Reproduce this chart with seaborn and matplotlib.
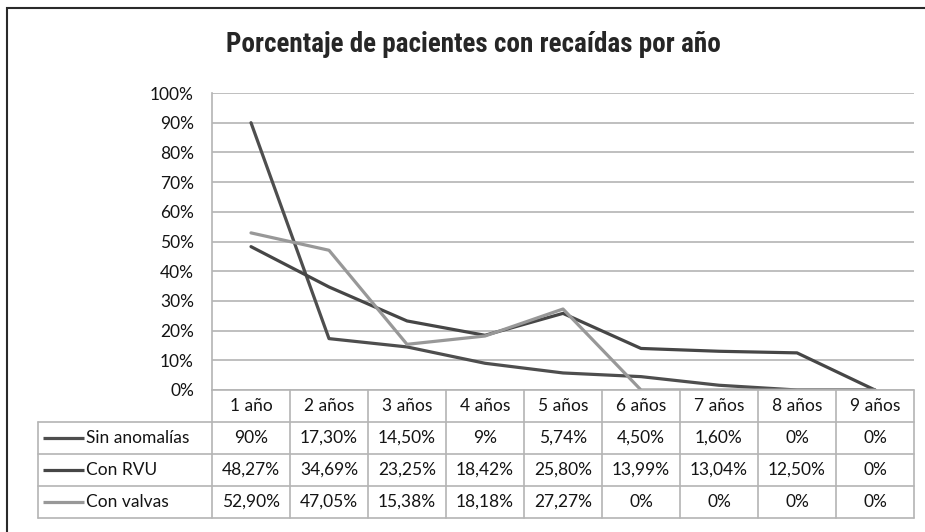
import matplotlib
matplotlib.use("Agg")
import pandas as pd
import matplotlib.pyplot as plt
from matplotlib.patches import Rectangle
import seaborn as sns

# ── Data ──────────────────────────────────────────────
years         = ["1 año", "2 años", "3 años", "4 años", "5 años",
                 "6 años", "7 años", "8 años", "9 años"]
sin_anomalias = [90, 17.30, 14.50, 9, 5.74, 4.50, 1.60, 0, 0]
con_rvu       = [48.27, 34.69, 23.25, 18.42, 25.80, 13.99, 13.04, 12.50, 0]
con_valvas    = [52.90, 47.05, 15.38, 18.18, 27.27, 0, 0, 0, 0]
series_names  = ["Sin anomalías", "Con RVU", "Con valvas"]
series_values = [sin_anomalias, con_rvu, con_valvas]
yticks        = list(range(0, 101, 10))

# ── Style ─────────────────────────────────────────────
COLORS    = {"Sin anomalías": "#4e4e4e", "Con RVU": "#464646", "Con valvas": "#989898"}
GRID_COL  = "#b4b4b4"
TEXT_COL  = "#141414"
LINE_W    = 2.3
FS        = 12.5
W, H      = 925, 532

sns.set_theme(style="white")
plt.rcParams['font.family'] = ['Lato', 'DejaVu Sans']


def px_rect(x0, y0, x1, y1):
    return [x0 / W, 1 - y1 / H, (x1 - x0) / W, (y1 - y0) / H]


def fmt_pct(v):
    if float(v).is_integer():
        return f"{int(v)}%"
    return f"{v:.2f}%".replace(".", ",")


rows = []
for name, vals in zip(series_names, series_values):
    for i, v in enumerate(vals):
        rows.append({"idx": i, "year": years[i], "serie": name, "value": v})
df = pd.DataFrame(rows)

fig = plt.figure(figsize=(W / 100, H / 100), dpi=100)

# ── Line chart ────────────────────────────────────────
ax = fig.add_axes(px_rect(212, 93, 914, 390))
sns.lineplot(data=df, x="idx", y="value", hue="serie", palette=COLORS,
             hue_order=series_names, linewidth=LINE_W, legend=False, ax=ax)
ax.set_xlim(-0.5, len(years) - 0.5)
ax.set_ylim(0, 100)
ax.set_yticks(yticks)
ax.set_yticklabels([f"{t}%" for t in yticks], fontsize=FS, color=TEXT_COL)
ax.set_xticks([])
ax.set_xlabel("")
ax.set_ylabel("")
ax.tick_params(axis="y", length=0, pad=13)
ax.grid(axis="y", color=GRID_COL, linewidth=1.2)
ax.set_axisbelow(True)
for s in ["top", "right", "bottom"]:
    ax.spines[s].set_visible(False)
ax.spines["left"].set_color(GRID_COL)
ax.spines["left"].set_linewidth(1.2)

# ── Data table ────────────────────────────────────────
tab = fig.add_axes(px_rect(212, 390, 914, 518))
tab.set_xlim(-0.5, len(years) - 0.5)
tab.set_ylim(len(series_names) + 1, 0)
tab.axis("off")

col_w    = (914 - 212) / len(years)
lab_left = -0.5 - (212 - 38) / col_w
n_rows   = len(series_names) + 1

line_kw = dict(color=GRID_COL, linewidth=1.2, clip_on=False)
tab.plot([-0.5, len(years) - 0.5], [0, 0], **line_kw)
for r in range(1, n_rows + 1):
    tab.plot([lab_left, len(years) - 0.5], [r, r], **line_kw)
for c in range(len(years) + 1):
    tab.plot([c - 0.5, c - 0.5], [0, n_rows], **line_kw)
tab.plot([lab_left, lab_left], [1, n_rows], **line_kw)

for i, y in enumerate(years):
    tab.text(i, 0.5, y, ha="center", va="center", fontsize=FS, color=TEXT_COL)

leg_x0 = -0.5 - (212 - 43) / col_w
leg_x1 = -0.5 - (212 - 84) / col_w
txt_x  = -0.5 - (212 - 86) / col_w
for r, (name, vals) in enumerate(zip(series_names, series_values), start=1):
    tab.plot([leg_x0, leg_x1], [r + 0.5, r + 0.5], color=COLORS[name],
             linewidth=LINE_W, clip_on=False, solid_capstyle="butt")
    tab.text(txt_x, r + 0.5, name, ha="left", va="center", fontsize=FS,
             color=TEXT_COL, clip_on=False)
    for i, v in enumerate(vals):
        tab.text(i, r + 0.5, fmt_pct(v), ha="center", va="center",
                 fontsize=FS, color=TEXT_COL)

# ── Title and frame ───────────────────────────────────
fig.text(473 / W, 1 - 45 / H, "Porcentaje de pacientes con recaídas por año",
         ha="center", va="center", fontsize=19.5, fontweight="heavy",
         family=["Roboto Condensed", "Lato", "DejaVu Sans"], fontstretch="condensed")
fig.add_artist(Rectangle((7 / W, -0.1), 1.2, 1.1 - 8 / H, transform=fig.transFigure,
                         fill=False, edgecolor="#2a2a2a", linewidth=1.5))

fig.savefig("out.png", dpi=100)
